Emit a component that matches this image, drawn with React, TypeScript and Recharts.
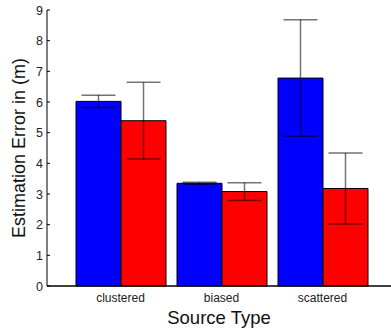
import React from "react";
import { Bar, BarChart, ErrorBar, Label, XAxis, YAxis } from "recharts";

const categories = ["clustered", "biased", "scattered"];
const blueValues = [6.02, 3.35, 6.78];
const blueErrors = [0.2, 0.03, 1.9];
const redValues = [5.39, 3.08, 3.18];
const redErrors = [1.25, 0.29, 1.16];
const yTicks = [0, 1, 2, 3, 4, 5, 6, 7, 8, 9];

const data = categories.map((name, i) => ({
  name,
  blue: blueValues[i],
  blueErr: blueErrors[i],
  red: redValues[i],
  redErr: redErrors[i],
}));

const FONT = "'Liberation Sans', Arial, Helvetica, sans-serif";
const ERR_COLOR = "rgba(0,0,0,0.55)";

function YTick(props: any) {
  const { x, y, payload } = props;
  return (
    <g>
      <line x1={x} y1={y} x2={x + 3} y2={y} stroke="#000" strokeWidth={1} />
      <text x={x - 4} y={y} dy={4.5} textAnchor="end" fontSize={12.5} fill="#222" fontFamily={FONT}>
        {payload.value}
      </text>
    </g>
  );
}

export default function App() {
  return (
    <div style={{ position: "absolute", left: 0, top: 0, background: "#fff" }}>
      <BarChart
        width={391}
        height={329}
        data={data}
        margin={{ top: 10, right: 0, left: 0, bottom: 0 }}
        barGap={0}
        barSize={45}
      >
        <XAxis
          dataKey="name"
          padding={{ left: 23, right: 18 }}
          tickLine={false}
          axisLine={{ stroke: "#000", strokeWidth: 1.5 }}
          tick={{ fontSize: 12, fill: "#222", fontFamily: FONT }}
          tickMargin={1}
          height={43}
        >
          <Label
            value="Source Type"
            position="insideBottom"
            offset={5}
            style={{ fontSize: 18.5, fill: "#111", fontFamily: FONT }}
          />
        </XAxis>
        <YAxis
          domain={[0, 9]}
          ticks={yTicks}
          interval={0}
          width={47}
          tickSize={0}
          tickMargin={0}
          tickLine={false}
          axisLine={{ stroke: "#000", strokeWidth: 1 }}
          tick={<YTick />}
        >
          <Label
            value="Estimation Error in (m)"
            angle={-90}
            position="insideLeft"
            offset={19}
            style={{ fontSize: 18, fill: "#111", fontFamily: FONT, textAnchor: "middle" }}
          />
        </YAxis>
        <Bar dataKey="blue" fill="#0000ff" stroke="#000" strokeWidth={1} isAnimationActive={false}>
          <ErrorBar dataKey="blueErr" width={17} stroke={ERR_COLOR} strokeWidth={1.5} isAnimationActive={false} />
        </Bar>
        <Bar dataKey="red" fill="#ff0000" stroke="#000" strokeWidth={1} isAnimationActive={false}>
          <ErrorBar dataKey="redErr" width={17} stroke={ERR_COLOR} strokeWidth={1.5} isAnimationActive={false} />
        </Bar>
      </BarChart>
    </div>
  );
}
